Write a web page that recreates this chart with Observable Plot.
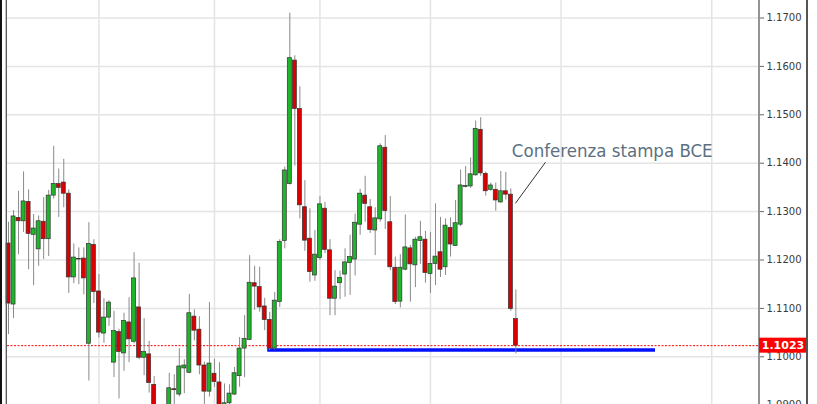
<!DOCTYPE html>
<html><head><meta charset="utf-8">
<script src="https://cdn.jsdelivr.net/npm/d3@7"></script>
<script src="https://cdn.jsdelivr.net/npm/@observablehq/plot@0.6"></script>
<style>
body{margin:0;background:#fff;overflow:hidden}
#chart{position:relative;width:817px;height:404px;overflow:hidden}
</style>
</head><body><div id="chart"></div>
<script>
// Daily EUR/USD candles (index = trading day)
const opens  = [1.1234,1.1108,1.1287,1.1280,1.1320,1.1252,1.1222,1.1279,1.1243,1.1333,
                1.1357,1.1360,1.1337,1.1164,1.1201,1.1203,1.1027,1.1231,1.1135,1.1048,
                1.1081,1.0988,1.1051,1.1007,1.1071,1.1031,1.1102,1.0998,1.1005,1.0942,
                1.0880,1.0845,1.0832,1.0933,1.0922,1.0976,1.0967,1.1083,1.1056,1.0982,
                1.0928,1.0965,1.0947,1.0891,1.0904,1.0922,1.0960,1.1017,1.1035,1.1152,
                1.1144,1.1104,1.1076,1.1017,1.1113,1.1239,1.1357,1.1612,1.1512,1.1309,
                1.1244,1.1168,1.1204,1.1306,1.1220,1.1120,1.1152,1.1170,1.1194,1.1201,
                1.1273,1.1333,1.1309,1.1261,1.1284,1.1432,1.1278,1.1184,1.1114,1.1180,
                1.1224,1.1189,1.1239,1.1242,1.1171,1.1192,1.1216,1.1185,1.1266,1.1229,
                1.1273,1.1351,1.1352,1.1375,1.1469,1.1378,1.1345,1.1345,1.1319,1.1342,
                1.1335,1.1078];
const highs  = [1.1278,1.1302,1.1342,1.1382,1.1345,1.1294,1.1291,1.1329,1.1344,1.1435,
                1.1388,1.1408,1.1345,1.1233,1.1225,1.1225,1.1277,1.1242,1.1170,1.1120,
                1.1116,1.1094,1.1057,1.1090,1.1122,1.1215,1.1193,1.1079,1.1032,1.0959,
                1.0895,1.0880,1.0966,1.0963,1.1017,1.0994,1.1129,1.1097,1.1083,1.0989,
                1.1112,1.0995,1.0988,1.0944,1.0942,1.0978,1.1040,1.1085,1.1209,1.1187,
                1.1185,1.1121,1.1092,1.1133,1.1242,1.1392,1.1710,1.1622,1.1558,1.1364,
                1.1306,1.1261,1.1331,1.1319,1.1242,1.1178,1.1177,1.1223,1.1251,1.1295,
                1.1346,1.1373,1.1325,1.1308,1.1440,1.1457,1.1331,1.1206,1.1211,1.1293,
                1.1230,1.1247,1.1280,1.1259,1.1257,1.1316,1.1288,1.1285,1.1287,1.1323,
                1.1386,1.1393,1.1411,1.1487,1.1494,1.1382,1.1359,1.1359,1.1383,1.1381,
                1.1347,1.1138];
const lows   = [1.1046,1.1079,1.1211,1.1257,1.1180,1.1147,1.1187,1.1201,1.1207,1.1326,
                1.1288,1.1308,1.1131,1.1151,1.1149,1.1128,1.0950,1.1110,1.1039,1.1028,
                1.1063,1.0957,1.0913,1.0970,1.0988,1.1027,1.0994,1.0961,1.0925,1.0860,
                1.0830,1.0808,1.0820,1.0885,1.0917,1.0924,1.0965,1.1033,1.0963,1.0895,
                1.0917,1.0937,1.0872,1.0850,1.0855,1.0920,1.0937,1.0957,1.1034,1.1096,
                1.1092,1.1054,1.1013,1.1014,1.1102,1.1223,1.1355,1.1394,1.1285,1.1218,
                1.1154,1.1156,1.1199,1.1213,1.1085,1.1085,1.1118,1.1123,1.1127,1.1167,
                1.1251,1.1278,1.1255,1.1209,1.1278,1.1263,1.1178,1.1108,1.1101,1.1178,
                1.1113,1.1143,1.1191,1.1152,1.1131,1.1147,1.1164,1.1168,1.1206,1.1228,
                1.1269,1.1349,1.1348,1.1373,1.1373,1.1332,1.1342,1.1301,1.1317,1.1324,
                1.1094,1.1006];
const closes = [1.1110,1.1290,1.1280,1.1321,1.1254,1.1265,1.1280,1.1243,1.1333,1.1357,
                1.1349,1.1337,1.1164,1.1205,1.1202,1.1162,1.1233,1.1134,1.1050,1.1081,
                1.1112,1.1053,1.1010,1.1074,1.1036,1.1162,1.0998,1.1010,1.0946,1.0880,
                1.0845,1.0832,1.0935,1.0931,1.0980,1.0982,1.1090,1.1054,1.0982,1.0928,
                1.0986,1.0948,1.0891,1.0904,1.0924,1.0966,1.1017,1.1037,1.1153,1.1145,
                1.1102,1.1076,1.1017,1.1116,1.1237,1.1385,1.1617,1.1512,1.1313,1.1240,
                1.1175,1.1211,1.1315,1.1221,1.1120,1.1145,1.1163,1.1195,1.1206,1.1277,
                1.1337,1.1316,1.1262,1.1286,1.1435,1.1301,1.1185,1.1113,1.1184,1.1226,
                1.1191,1.1242,1.1247,1.1173,1.1192,1.1207,1.1180,1.1271,1.1232,1.1276,
                1.1354,1.1353,1.1377,1.1471,1.1379,1.1342,1.1354,1.1323,1.1342,1.1335,
                1.1099,1.1023];

const priceTicks = [1.09,1.10,1.11,1.12,1.13,1.14,1.15,1.16,1.17];
const timeGrid = [18,41,62,84,110,140];          // vertical grid (trading-day index)
const lastPrice = 1.1023;
const supportLevel = 1.1014;
const supportSpan = [51.6, 128.8];              // trading-day index range of the blue line
const noteText = "Conferenza stampa BCE";
const notePoint = [100.9, 1.1317];              // leader line start (ECB candle)
const noteElbow = [106.9, 1.1402];              // leader line end
const noteTextAt = [100.2, 1.1413];

const candles = opens.map((o, i) => ({i, open: o, high: highs[i], low: lows[i], close: closes[i]}));

const W = 817, H = 404;
const plot = Plot.plot({
  width: W, height: H,
  marginLeft: 7, marginRight: 58, marginTop: 0, marginBottom: 0,
  x: {type: "linear", domain: [-0.2, 149.5], axis: null},
  y: {domain: [1.090145, 1.173616]},
  style: {fontFamily: "DejaVu Sans", background: "white", overflow: "hidden"},
  marks: [
    Plot.gridY(priceTicks, {stroke: "#e4e4e4", strokeOpacity: 1, strokeWidth: 1.5}),
    Plot.gridX(timeGrid, {stroke: "#e4e4e4", strokeOpacity: 1, strokeWidth: 1.5}),
    Plot.ruleY([lastPrice], {stroke: "#ff0000", strokeWidth: 1, strokeDasharray: "2,1.5"}),
    Plot.ruleY([supportLevel], {x1: supportSpan[0], x2: supportSpan[1], stroke: "#0010ff", strokeWidth: 3.5}),
    Plot.ruleX(candles, {x: "i", y1: "low", y2: "high", stroke: "#8a8a8a", strokeWidth: 1}),
    Plot.rect(candles, {
      x1: d => d.i - 0.4, x2: d => d.i + 0.4, y1: "open", y2: "close",
      fill: d => d.close >= d.open ? "#1fb52a" : "#d80000",
      stroke: "#333", strokeWidth: 0.7
    }),
    Plot.link([0], {x1: () => notePoint[0], y1: () => notePoint[1], x2: () => noteElbow[0], y2: () => noteElbow[1], stroke: "#333", strokeWidth: 1}),
    Plot.text([noteText], {x: () => noteTextAt[0], y: () => noteTextAt[1], text: d => d, textAnchor: "start", lineAnchor: "bottom",
      fontSize: 18.5, fill: "#5c7082", fontFamily: "DejaVu Sans Condensed, Liberation Sans, sans-serif"}),
    Plot.axisY(priceTicks, {anchor: "right", tickFormat: d3.format(".4f"), tickSize: 4, tickPadding: 3,
      fontSize: 10, fill: "#3a3a3a", stroke: "#666", label: null})
  ]
});
document.getElementById("chart").appendChild(plot);

// chrome: axis line, borders and current price badge
const svg = d3.select(plot);
const xr = plot.scale("x").range;
const yLast = plot.scale("y").apply(lastPrice);
svg.append("line").attr("x1", xr[1]).attr("x2", xr[1]).attr("y1", 0).attr("y2", H).attr("stroke", "#707070").attr("stroke-width", 1.5);
svg.append("line").attr("x1", 807).attr("x2", 807).attr("y1", 0).attr("y2", H).attr("stroke", "#555").attr("stroke-width", 2);
svg.append("line").attr("x1", 1).attr("x2", 1).attr("y1", 0).attr("y2", H).attr("stroke", "#111").attr("stroke-width", 2);
svg.append("line").attr("x1", 6.3).attr("x2", 6.3).attr("y1", 0).attr("y2", H).attr("stroke", "#555").attr("stroke-width", 1.3);
svg.append("rect").attr("x", xr[1]).attr("y", yLast - 7.5).attr("width", 47).attr("height", 15).attr("fill", "#ff0000");
svg.append("text").attr("x", xr[1] + 24).attr("y", yLast).attr("dy", "0.36em").attr("text-anchor", "middle")
  .attr("fill", "white").attr("font-weight", "bold").attr("font-size", 11).attr("font-family", "DejaVu Sans")
  .text(lastPrice.toFixed(4));
</script>
</body></html>
